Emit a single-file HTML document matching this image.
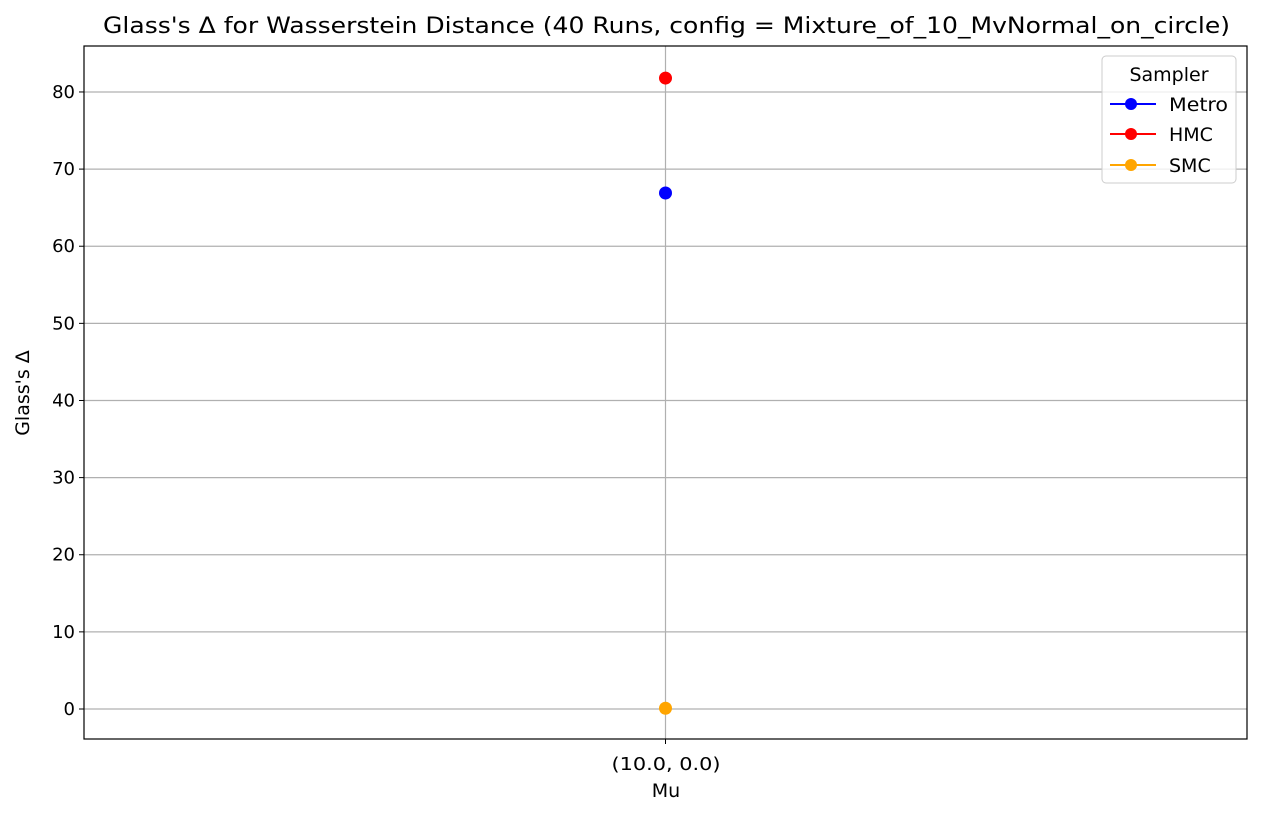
<!DOCTYPE html>
<html><head><meta charset="utf-8"><style>
body{margin:0;background:#fff;font-family:"DejaVu Sans","Liberation Sans",sans-serif;}
svg text{font-family:"DejaVu Sans","Liberation Sans",sans-serif;}
</style></head><body>
<svg id="chart" width="1261" height="817" xmlns="http://www.w3.org/2000/svg">
<text x="103" y="33" font-size="22" textLength="1127" lengthAdjust="spacingAndGlyphs">Glass's Δ for Wasserstein Distance (40 Runs, config = Mixture_of_10_MvNormal_on_circle)</text>
<g id="grid"></g>
<g id="axes"></g>
<g id="marks"></g>
<rect x="84" y="46" width="1163" height="693" fill="none" stroke="#000" stroke-width="1.2"/>
<text transform="translate(29,393) rotate(-90)" font-size="19" text-anchor="middle">Glass's Δ</text>
<text x="666" y="797" font-size="19" text-anchor="middle">Mu</text>
<g>
<rect x="1102" y="56" width="134" height="127" rx="4" fill="#fff" fill-opacity="0.8" stroke="#ccc"/>
<text x="1169" y="81" font-size="19" text-anchor="middle">Sampler</text>
<g><line x1="1110" y1="104" x2="1156" y2="104" stroke="blue" stroke-width="2"/><circle cx="1131" cy="104" r="6" fill="blue"/><text x="1169" y="111" font-size="19" textLength="59" lengthAdjust="spacingAndGlyphs">Metro</text></g>
<g><line x1="1110" y1="134" x2="1156" y2="134" stroke="red" stroke-width="2"/><circle cx="1131" cy="134" r="6" fill="red"/><text x="1169" y="141" font-size="19">HMC</text></g>
<g><line x1="1110" y1="165" x2="1156" y2="165" stroke="orange" stroke-width="2"/><circle cx="1131" cy="165" r="6" fill="orange"/><text x="1169" y="172" font-size="19">SMC</text></g>
</g>
</svg>
<script>
const categories = ["(10.0, 0.0)"];
const seriesNames = ["Metro", "HMC", "SMC"];
const seriesColors = ["blue", "red", "orange"];
const metroValues = [66.9];
const hmcValues = [81.8];
const smcValues = [0.1];
const yTicks = [0, 10, 20, 30, 40, 50, 60, 70, 80];

const NS = "http://www.w3.org/2000/svg";
const L = 84, R = 1247, T = 46, B = 739;
const yMin = -3.89, yMax = 85.96;
function yScale(v){ return B - (v - yMin) / (yMax - yMin) * (B - T); }
function xScale(i){ return L + (i + 0.5) / categories.length * (R - L); }
function mk(tag, attrs, parent){ const e = document.createElementNS(NS, tag); for (const k in attrs) e.setAttribute(k, attrs[k]); parent.appendChild(e); return e; }
const grid = document.getElementById('grid'), axes = document.getElementById('axes'), marks = document.getElementById('marks');
yTicks.forEach(t => {
  const y = yScale(t);
  const g = mk('line', {x1: L, x2: R, y1: y, y2: y, stroke: '#b0b0b0', 'stroke-width': 1.2}, grid);
  
  
  mk('line', {x1: L - 5, x2: L, y1: y, y2: y, stroke: '#000'}, axes);
  const tx = mk('text', {x: L - 9, y: y + 6, 'font-size': 18, 'text-anchor': 'end'}, axes);
  tx.textContent = t;
  
  
});
categories.forEach((c, i) => {
  const x = xScale(i);
  const g = mk('line', {x1: x, x2: x, y1: T, y2: B, stroke: '#b0b0b0', 'stroke-width': 1.2}, grid);
  
  
  mk('line', {x1: x, x2: x, y1: B, y2: B + 5, stroke: '#000'}, axes);
  const tx = mk('text', {x: x - 54, y: B + 31, 'font-size': 18, textLength: 109, lengthAdjust: 'spacingAndGlyphs'}, axes);
  tx.textContent = c;
  
  
});
[metroValues, hmcValues, smcValues].forEach((vals, s) => {
  vals.forEach((v, i) => {
    const p = mk('circle', {cx: xScale(i), cy: yScale(v), r: 6.5, fill: seriesColors[s]}, marks);
    
    
  });
});
</script>
</body></html>
